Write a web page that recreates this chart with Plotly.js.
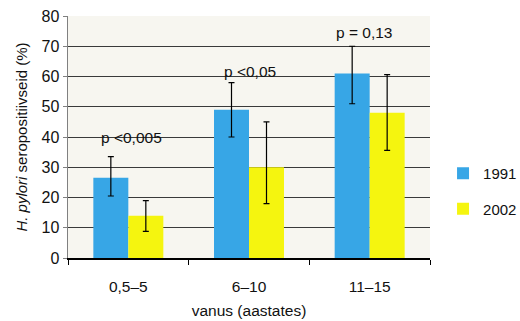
<!DOCTYPE html>
<html>
<head>
<meta charset="utf-8">
<script src="https://cdn.plot.ly/plotly-3.0.1.min.js"></script>
<style>html,body{margin:0;padding:0;background:#fff;}#chart{width:520px;height:321px;}</style>
</head>
<body>
<div id="chart"></div>
<script>
const categories = ["0,5–5", "6–10", "11–15"];
const values1991 = [26.5, 49, 61];
const errPlus1991 = [7, 9, 9];
const errMinus1991 = [6, 9, 10];
const values2002 = [14, 30, 48];
const errPlus2002 = [5, 15, 12.6];
const errMinus2002 = [5.2, 12, 12.4];
const pLabels = ["p <0,005", "p <0,05", "p = 0,13"];
const pLabelY = [39.7, 61.5, 74.4];
const pLabelShift = [3, 1, -6];
const yTicks = [0, 10, 20, 30, 40, 50, 60, 70, 80];

const font = "Liberation Sans, Arial, sans-serif";
const errStyle = {type: "data", symmetric: false, color: "#000", thickness: 1.2, width: 3};

const traces = [
  {type: "bar", name: "1991", x: categories, y: values1991, marker: {color: "#37a6e6"},
   legendgroup: "a",
   error_y: Object.assign({}, errStyle, {array: errPlus1991, arrayminus: errMinus1991})},
  {type: "bar", name: "2002", x: categories, y: values2002, marker: {color: "#f5f50f"},
   legendgroup: "b",
   error_y: Object.assign({}, errStyle, {array: errPlus2002, arrayminus: errMinus2002})}
];

const annotations = categories.map((c, i) => ({
  x: c, y: pLabelY[i], xref: "x", yref: "y", text: pLabels[i], showarrow: false,
  xshift: pLabelShift[i], font: {family: font, size: 15.5, color: "#111"}
}));

const layout = {
  width: 520, height: 321,
  margin: {l: 68, r: 90, t: 16, b: 63},
  paper_bgcolor: "#ffffff",
  plot_bgcolor: "#f7f6f0",
  font: {family: font, size: 15, color: "#111"},
  barmode: "group",
  bargap: 0.42,
  bargroupgap: 0,
  showlegend: true,
  legend: {xref: "container", yref: "container", x: 0.852, y: 0.405, xanchor: "left", yanchor: "middle",
           traceorder: "grouped", tracegroupgap: 13, itemwidth: 30,
           font: {family: font, size: 15, color: "#111"},
           bgcolor: "rgba(0,0,0,0)"},
  xaxis: {
    type: "category",
    showline: true, linecolor: "#000", linewidth: 1.5,
    ticks: "outside", tickson: "boundaries", ticklen: 5, tickcolor: "#000", tickwidth: 1,
    ticklabelstandoff: 14,
    tickfont: {family: font, size: 15.5, color: "#111"},
    showgrid: false,
    title: {text: "vanus (aastates)", font: {family: font, size: 15.5, color: "#111"}, standoff: 11}
  },
  yaxis: {
    range: [0, 80], tickvals: yTicks, ticktext: yTicks.map(String),
    showline: true, linecolor: "#808080", linewidth: 1.5,
    ticks: "outside", ticklen: 4, tickcolor: "#808080",
    showgrid: true, gridcolor: "#3a3a3a", gridwidth: 1,
    zeroline: false,
    tickfont: {family: font, size: 16, color: "#111"},
    title: {text: "<i>H. pylori</i> seropositiivseid (%)", font: {family: font, size: 15, color: "#111"}, standoff: 10}
  },
  annotations: annotations
};

Plotly.newPlot("chart", traces, layout, {displayModeBar: false, staticPlot: true});
</script>
</body>
</html>
